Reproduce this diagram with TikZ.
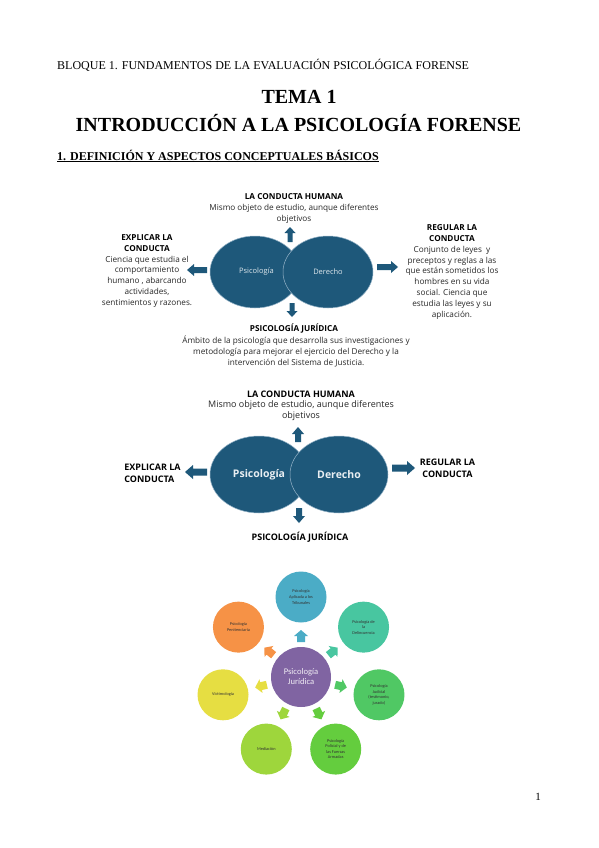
\documentclass[tikz,border=0pt]{standalone}
\usepackage{fontspec}
\setmainfont{Liberation Serif}
\newfontfamily\aptos{Open Sans}
\newfontfamily\calib{Carlito}
\usetikzlibrary{shapes.geometric}
\definecolor{dblue}{RGB}{30,88,122}
\definecolor{edgeb}{RGB}{150,180,200}
\definecolor{txtg}{RGB}{40,40,40}
\definecolor{cblue}{RGB}{75,172,198}
\definecolor{cteal}{RGB}{72,198,160}
\definecolor{cgreen}{RGB}{80,200,100}
\definecolor{cbgreen}{RGB}{100,205,62}
\definecolor{cygreen}{RGB}{158,214,60}
\definecolor{cyellow}{RGB}{230,222,66}
\definecolor{corange}{RGB}{246,146,70}
\definecolor{cpurple}{RGB}{128,100,162}
% block arrow: #1 x, #2 y, #3 angle, #4 length, #5 shaft width, #6 head width, #7 head length, #8 colour
\newcommand\blockarr[8]{%
  \fill[#8,shift={(#1,#2)},rotate=#3]
    ({-#4/2},{-#5/2}) -- ({#4/2-#7},{-#5/2}) -- ({#4/2-#7},{-#6/2}) -- ({#4/2},0)
    -- ({#4/2-#7},{#6/2}) -- ({#4/2-#7},{#5/2}) -- ({-#4/2},{#5/2}) -- cycle;}
\begin{document}
\begin{tikzpicture}[x=1pt,y=-1pt,
  hdr/.style={inner sep=0pt,font=\fontsize{12}{14}\selectfont},
  ttl/.style={inner sep=0pt,font=\fontsize{20}{22}\selectfont\bfseries},
  tA/.style={inner sep=0pt,align=center,text=txtg,font=\aptos\fontsize{8.2}{10.8}\selectfont},
  tAb/.style={inner sep=0pt,align=center,text=black,font=\aptos\bfseries\fontsize{8.2}{10.8}\selectfont},
  tB/.style={inner sep=0pt,align=center,text=txtg,font=\aptos\fontsize{9}{11.5}\selectfont},
  tBb/.style={inner sep=0pt,align=center,text=black,font=\aptos\bfseries\fontsize{9}{11.5}\selectfont},
  ellA/.style={ellipse,fill=dblue,draw=edgeb,line width=0.5pt,inner sep=0pt,minimum width=90pt,minimum height=72pt,text=white!85!dblue,font=\aptos\fontsize{7.5}{9}\selectfont},
  ellB/.style={ellipse,fill=dblue,draw=edgeb,line width=0.5pt,inner sep=0pt,minimum width=98pt,minimum height=77pt,text=white!90!dblue,font=\aptos\bfseries\fontsize{10.5}{12}\selectfont},
  circ/.style={circle,inner sep=0pt,minimum size=51pt,align=center,text=black!80,font=\calib\fontsize{4.3}{5.6}\selectfont}
]
\useasboundingbox[fill=white] (0,0) rectangle (599,848);

% header
\node[hdr,anchor=west] (bloque) at (57,65) {BLOQUE 1. FUNDAMENTOS DE LA EVALUACIÓN PSICOLÓGICA FORENSE};
\node[ttl] (tema) at (299,97) {TEMA 1};
\node[ttl] (intro) at (298.5,123) {INTRODUCCIÓN A LA PSICOLOGÍA FORENSE};
\node[inner sep=0pt,anchor=west,font=\fontsize{12}{14}\selectfont\bfseries] (sec) at (57,156) {\underline{1. DEFINICIÓN Y ASPECTOS CONCEPTUALES BÁSICOS}};

% diagram 1
\node[ellA] (psi1) at (255,272) {\hspace*{3pt}Psicología};
\node[ellA] (der1) at (328,272) {Derecho};
\blockarr{290}{234.5}{90}{15}{5}{11}{6}{dblue}
\blockarr{197}{270}{180}{20}{6}{12}{7}{dblue}
\blockarr{387.5}{267}{0}{21}{6}{12}{7}{dblue}
\blockarr{292}{310}{270}{14}{5}{11}{6}{dblue}
\node[tAb] (hum1) at (294,197) {LA CONDUCTA HUMANA};
\node[tA] (humd1) at (294,213.5) {Mismo objeto de estudio, aunque diferentes\\objetivos};
\node[tA] (exp1) at (147,271) {\textbf{\color{black}EXPLICAR LA}\\\textbf{\color{black}CONDUCTA}\\Ciencia que estudia el\\comportamiento\\humano , abarcando\\actividades,\\sentimientos y razones.};
\node[tA] (reg1) at (452,272) {\textbf{\color{black}REGULAR LA}\\\textbf{\color{black}CONDUCTA}\\Conjunto de leyes \ y\\preceptos y reglas a las\\que están sometidos los\\hombres en su vida\\social. Ciencia que\\estudia las leyes y su\\aplicación.};
\node[tAb] (jur1) at (294,329) {PSICOLOGÍA JURÍDICA};
\node[tA] (jurd1) at (296,351.5) {Ámbito de la psicología que desarrolla sus investigaciones y\\metodología para mejorar el ejercicio del Derecho y la\\intervención del Sistema de Justicia.};

% diagram 2
\node[ellB] (psi2) at (259,474.5) {Psicología};
\node[ellB] (der2) at (339,474.5) {Derecho};
\blockarr{298}{434.5}{90}{15}{6}{12}{7}{dblue}
\blockarr{196}{472}{180}{22}{7}{14}{8}{dblue}
\blockarr{403.5}{468}{0}{23}{7}{14}{8}{dblue}
\blockarr{299}{515.5}{270}{15}{6}{12}{7}{dblue}
\node[tBb] (hum2) at (301,394) {LA CONDUCTA HUMANA};
\node[tB] (humd2) at (301,410.5) {Mismo objeto de estudio, aunque diferentes\\objetivos};
\node[tBb,align=left] (exp2) at (152.5,473.5) {EXPLICAR LA\\CONDUCTA};
\node[tBb] (reg2) at (447.5,468.5) {REGULAR LA\\CONDUCTA};
\node[tBb] (jur2) at (300,537) {PSICOLOGÍA JURÍDICA};

% diagram 3
\node[circle,fill=cpurple,inner sep=0pt,minimum size=60pt,align=center,text=white!88!cpurple,font=\calib\fontsize{8.6}{10}\selectfont] (cen) at (301,677) {Psicología\\Jurídica};
\foreach \i/\ang/\col/\txt in {
  1/90/cblue/{Psicología\\Aplicada a los\\Tribunales},
  2/38.57/cteal/{Psicología de\\la\\Delincuencia},
  3/-12.86/cgreen/{Psicología\\Judicial\\(testimonio,\\jurado)},
  4/-64.29/cbgreen/{Psicología\\Policial y de\\las Fuerzas\\Armadas},
  5/-115.71/cygreen/{Mediación},
  6/-167.14/cyellow/{Victimología},
  7/141.43/corange/{Psicología\\Penitenciaria}}{
  \node[circ,fill=\col] (o\i) at ({301+80*cos(\ang)},{677-80*sin(\ang)}) {\txt};
  \blockarr{{301+41*cos(\ang)}}{{677-41*sin(\ang)}}{\ang}{12}{8}{14}{6}{\col}
}

% page number
\node[inner sep=0pt,font=\fontsize{11}{13}\selectfont] (pnum) at (538,797) {1};
\end{tikzpicture}
\end{document}
